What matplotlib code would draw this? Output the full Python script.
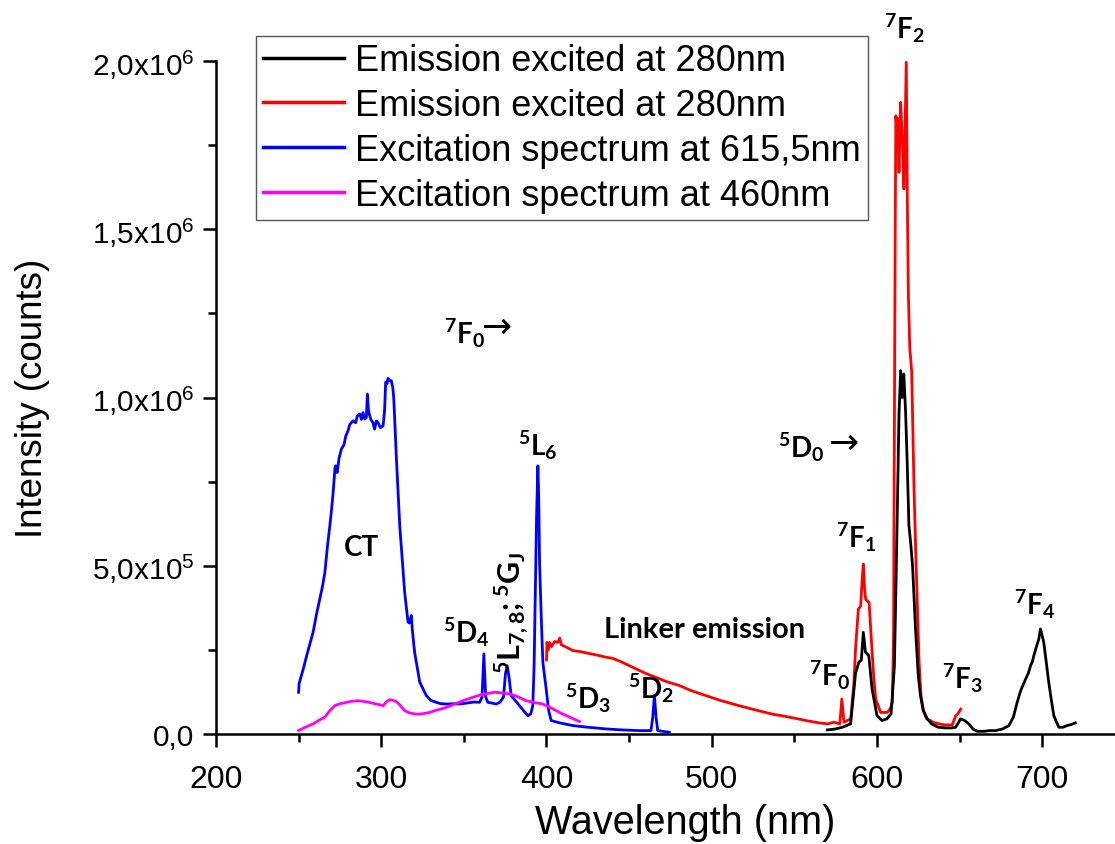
import matplotlib
matplotlib.use("Agg")
import matplotlib.pyplot as plt
from matplotlib.ticker import FixedLocator, FixedFormatter

plt.rcParams['font.family'] = ['Liberation Sans', 'DejaVu Sans']
plt.rcParams['mathtext.fontset'] = 'custom'
plt.rcParams['mathtext.rm'] = 'Liberation Sans'
plt.rcParams['mathtext.it'] = 'Liberation Sans:italic'
plt.rcParams['mathtext.bf'] = 'Lato:bold'

# ---------------- data ----------------
wl_black = [570, 575, 579, 584, 587, 589, 590.5, 591.7, 593, 595, 597, 600, 603, 606,
            608.5, 610.5, 611.7, 613.3, 614.3, 615.3, 616.2, 617.3, 618.3, 619.3, 620.5,
            621.5, 623.3, 625, 626.3, 628, 630.4, 633, 637, 641.5, 645, 647.6, 650.6, 653,
            655.6, 658, 660.6, 665, 668, 671.7, 676, 679.8, 682.5, 684.8, 687, 689.9, 691.5,
            692.9, 694, 694.9, 696.5, 697.9, 698.9, 699.8, 700.9, 702.5, 703.9, 705.5, 707,
            710, 712.5, 715, 717.5, 720]
int_black = [0.012, 0.015, 0.02, 0.03, 0.18, 0.213, 0.22, 0.302, 0.243, 0.233, 0.134, 0.054,
             0.04, 0.045, 0.06, 0.2, 0.5, 0.95, 1.08, 1.0, 1.07, 0.956, 0.8, 0.62, 0.56, 0.5,
             0.312, 0.17, 0.114, 0.07, 0.045, 0.03, 0.02, 0.018, 0.018, 0.02, 0.045, 0.04, 0.03,
             0.015, 0.008, 0.008, 0.01, 0.01, 0.015, 0.025, 0.05, 0.094, 0.13, 0.163, 0.18,
             0.203, 0.215, 0.233, 0.26, 0.282, 0.312, 0.295, 0.272, 0.21, 0.154, 0.1, 0.054,
             0.02, 0.02, 0.025, 0.028, 0.033]

wl_red = [400.0, 400.3, 401, 401.8, 403, 405, 406.8, 408, 409, 412, 415.9, 420, 425, 430,
          436.1, 440, 445, 452.2, 460, 466.3, 473, 480.4, 488, 496.5, 505, 516.6, 526, 536.7,
          547, 556.9, 565, 570, 574, 577.5, 578.7, 580, 582, 584.1, 586, 587.1, 588.7, 590.1,
          590.9, 591.7, 592.5, 593.1, 595.2, 596.8, 598, 599.2, 602.2, 606.2, 608, 609.3, 610,
          610.5, 611, 611.4, 612, 612.4, 613.3, 614.3, 615.3, 616.3, 617.7, 618.3, 619, 619.8,
          621, 621.5, 622.3, 623.3, 624.3, 625.4, 626.6, 628, 630, 634, 637.5, 641, 645.5,
          647.6, 649, 650.6]
int_red = [0.22, 0.272, 0.25, 0.272, 0.26, 0.275, 0.272, 0.285, 0.265, 0.258, 0.248, 0.245,
           0.24, 0.235, 0.228, 0.225, 0.215, 0.198, 0.18, 0.168, 0.155, 0.144, 0.128, 0.114,
           0.1, 0.084, 0.072, 0.059, 0.05, 0.04, 0.033, 0.03, 0.035, 0.03, 0.104, 0.035, 0.04,
           0.045, 0.15, 0.262, 0.371, 0.38, 0.45, 0.505, 0.43, 0.401, 0.39, 0.262, 0.17, 0.104,
           0.064, 0.064, 0.075, 0.094, 0.3, 0.9, 1.5, 1.837, 1.80, 1.83, 1.669, 1.877, 1.768,
           1.62, 1.996, 1.6, 1.3, 1.15, 1.075, 0.95, 0.75, 0.56, 0.4, 0.22, 0.114, 0.07, 0.045,
           0.035, 0.03, 0.027, 0.027, 0.054, 0.06, 0.074]

wl_blue = [250, 250.3, 252.8, 255, 258.8, 261, 262.8, 264.5, 265.9, 267.5, 268.9, 270, 270.9,
           272, 272.5, 273.3, 274.5, 275.9, 277.5, 278.5, 279.9, 281, 283, 284.5, 285.5, 287,
           288, 289, 290, 291, 291.6, 292.3, 293.6, 295, 296, 297, 298, 299.5, 301.1, 302,
           302.7, 303.5, 304.1, 305, 306.1, 307, 307.6, 309.2, 311.2, 314.2, 316.2, 317, 318.2,
           318.8, 320.2, 323.3, 327.3, 330, 333.3, 336, 340.4, 344, 347.4, 352, 356, 359.5,
           361, 362.1, 363.2, 364.5, 367, 369.6, 372, 374, 375.2, 376.2, 377.3, 378.6, 381,
           383.7, 386, 388.7, 390.5, 391.7, 392.5, 393.2, 394, 394.8, 395.3, 395.8, 396.8,
           397.8, 399.8, 401.3, 402.8, 408, 415.9, 425, 436.1, 446, 456.2, 463.2, 464.3,
           465.3, 466.3, 467.3, 470, 474.3]
int_blue = [0.124, 0.15, 0.193, 0.235, 0.303, 0.36, 0.401, 0.44, 0.48, 0.56, 0.619, 0.67,
            0.718, 0.79, 0.797, 0.777, 0.82, 0.847, 0.86, 0.885, 0.901, 0.92, 0.931, 0.925,
            0.945, 0.951, 0.935, 0.955, 0.936, 0.94, 1.01, 0.96, 0.936, 0.925, 0.906, 0.93,
            0.926, 0.91, 0.916, 0.96, 1.045, 1.04, 1.057, 1.05, 1.05, 1.03, 0.996, 0.817,
            0.619, 0.42, 0.333, 0.33, 0.352, 0.31, 0.243, 0.154, 0.114, 0.1, 0.094, 0.09,
            0.089, 0.09, 0.089, 0.092, 0.095, 0.094, 0.11, 0.238, 0.11, 0.094, 0.092, 0.089,
            0.095, 0.11, 0.18, 0.203, 0.17, 0.114, 0.1, 0.084, 0.07, 0.054, 0.06, 0.084, 0.2,
            0.411, 0.65, 0.797, 0.7, 0.51, 0.35, 0.213, 0.134, 0.07, 0.04, 0.033, 0.025, 0.02,
            0.015, 0.012, 0.01, 0.01, 0.05, 0.114, 0.05, 0.01, 0.008, 0.005]

wl_mag = [250, 254, 258.8, 262, 265.9, 269, 271.9, 275, 279, 282, 286, 289, 292.6, 296, 299,
          301.1, 303, 305.1, 307, 309.2, 311.5, 314.2, 317.5, 321.3, 325, 329.3, 333, 336,
          339.4, 345, 350, 355.5, 360, 364, 368.6, 373, 377.6, 382, 387.7, 392, 397.8, 403,
          407.9, 414, 420]
int_mag = [0.01, 0.02, 0.03, 0.04, 0.05, 0.07, 0.084, 0.09, 0.094, 0.097, 0.099, 0.097, 0.094,
           0.09, 0.087, 0.084, 0.095, 0.102, 0.1, 0.096, 0.085, 0.069, 0.062, 0.059, 0.06,
           0.064, 0.07, 0.074, 0.079, 0.09, 0.1, 0.109, 0.116, 0.12, 0.124, 0.122, 0.119,
           0.112, 0.099, 0.094, 0.089, 0.077, 0.064, 0.05, 0.037]

series_labels = ["Emission excited at 280nm", "Emission excited at 280nm",
                 "Excitation spectrum at 615,5nm", "Excitation spectrum at 460nm"]
series_colors = ["#000000", "#ff0000", "#0000ff", "#ff00ff"]

x_ticks = [200, 300, 400, 500, 600, 700]
x_ticklabels = ["200", "300", "400", "500", "600", "700"]
y_ticks = [0, 0.5e6, 1.0e6, 1.5e6, 2.0e6]
y_ticklabels = ["0,0", r"5,0x10$^{5}$", r"1,0x10$^{6}$", r"1,5x10$^{6}$", r"2,0x10$^{6}$"]

# annotations: (text, x nm, y counts, rotation, size)
annotations = [
    (r"$\mathbf{^{7}F_{2}}$", 616.3, 2.10e6, 0, 20),
    (r"$\mathbf{^{7}F_{0}}$", 350.3, 1.195e6, 0, 20),
    ("CT", 288, 0.556e6, 0, 20),
    (r"$\mathbf{^{5}L_{6}}$", 394.6, 0.862e6, 0, 20),
    (r"$\mathbf{^{5}D_{4}}$", 351.5, 0.305e6, 0, 20),
    (r"$\mathbf{^{5}L_{7,8};{}^{5}G_{J}}$", 378.7, 0.362e6, 90, 22),
    (r"$\mathbf{^{5}D_{3}}$", 425.4, 0.11e6, 0, 20),
    (r"$\mathbf{^{5}D_{2}}$", 463.3, 0.139e6, 0, 20),
    ("Linker emission", 495.5, 0.312e6, 0, 21),
    (r"$\mathbf{^{5}D_{0}}$", 554.1, 0.856e6, 0, 20),
    (r"$\mathbf{^{7}F_{1}}$", 587.1, 0.588e6, 0, 20),
    (r"$\mathbf{^{7}F_{0}}$", 571.0, 0.178e6, 0, 20),
    (r"$\mathbf{^{7}F_{3}}$", 651.4, 0.169e6, 0, 20),
    (r"$\mathbf{^{7}F_{4}}$", 695.2, 0.389e6, 0, 20),
]
arrows = [(370.0, 1.21e6), (580.0, 0.866e6)]

# ---------------- figure ----------------
fig = plt.figure(figsize=(11.15, 8.45), dpi=100)
ax = fig.add_axes([0.1937, 0.1302, 0.8063, 0.7964])

lw = 2.0
l_red, = ax.plot(wl_red, [v * 1e6 for v in int_red], color=series_colors[1], lw=lw, zorder=3)
l_black, = ax.plot(wl_black, [v * 1e6 for v in int_black], color=series_colors[0], lw=lw, zorder=4)
l_blue, = ax.plot(wl_blue, [v * 1e6 for v in int_blue], color=series_colors[2], lw=lw, zorder=3)
l_mag, = ax.plot(wl_mag, [v * 1e6 for v in int_mag], color=series_colors[3], lw=lw, zorder=4)

ax.set_xlim(200, 744)
ax.set_ylim(0, 2.0e6)

for s in ["top", "right"]:
    ax.spines[s].set_visible(False)
for s in ["left", "bottom"]:
    ax.spines[s].set_linewidth(1.8)

ax.xaxis.set_major_locator(FixedLocator(x_ticks))
ax.xaxis.set_major_formatter(FixedFormatter(x_ticklabels))
ax.xaxis.set_minor_locator(FixedLocator([250, 350, 450, 550, 650]))
ax.yaxis.set_major_locator(FixedLocator(y_ticks))
ax.yaxis.set_major_formatter(FixedFormatter(y_ticklabels))
ax.yaxis.set_minor_locator(FixedLocator([0.25e6, 0.75e6, 1.25e6, 1.75e6]))

ax.tick_params(axis="both", which="major", direction="out", length=9.5, width=1.8,
               color="black")
ax.tick_params(axis="both", which="minor", direction="out", length=5.5, width=1.8)
ax.tick_params(axis="x", which="major", pad=12, labelsize=23)
ax.tick_params(axis="y", which="major", pad=6, labelsize=21.5)

ax.set_xlabel("Wavelength (nm)", fontsize=28.5)
ax.xaxis.set_label_coords(0.522, -0.102)
ax.xaxis.label.set_verticalalignment("top")
ax.set_ylabel("Intensity (counts)", fontsize=26.5, labelpad=30)

leg = ax.legend([l_black, l_red, l_blue, l_mag], series_labels,
                loc="upper left", bbox_to_anchor=(0.0445, 1.037), borderaxespad=0,
                fontsize=26, frameon=True, fancybox=False, framealpha=1,
                edgecolor="#555555", handlelength=2.25, handletextpad=0.3,
                labelspacing=0.27, borderpad=0.2)
leg.get_frame().set_linewidth(1.0)
for h in leg.legend_handles:
    h.set_linewidth(2.5)

for txt, xx, yy, rot, fs in annotations:
    ax.text(xx, yy, txt, ha="center", va="center", rotation=rot,
            fontsize=fs, fontweight="bold", family="Lato", clip_on=False, zorder=6)
for xx, yy in arrows:
    ax.text(xx, yy, "\u2192", ha="center", va="center", fontsize=26,
            family="DejaVu Sans", clip_on=False, zorder=6)

fig.savefig("out.png", dpi=100)
